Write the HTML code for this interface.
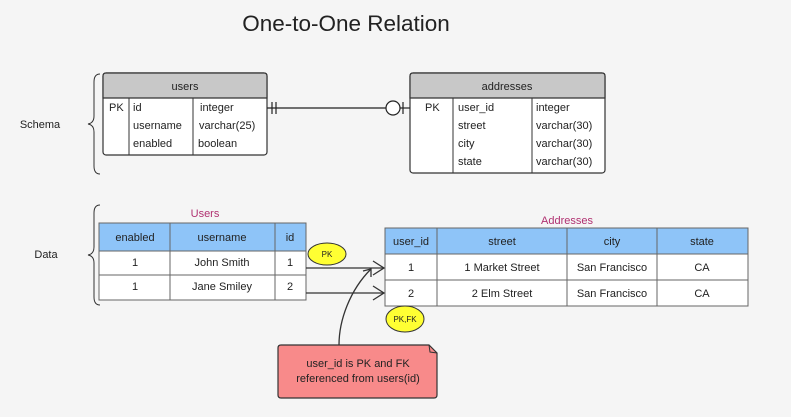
<!DOCTYPE html>
<html><head><meta charset="utf-8"><style>
html,body{margin:0;padding:0;background:#f5f5f5;}
svg{display:block;font-family:"Liberation Sans",sans-serif;}
</style></head><body>
<svg width="791" height="417" viewBox="0 0 791 417" xmlns="http://www.w3.org/2000/svg">
<rect width="791" height="417" fill="#f5f5f5"/>
<text x="346" y="31" font-size="22.5" text-anchor="middle" fill="#222">One-to-One Relation</text>
<text x="40" y="128" font-size="11" text-anchor="middle" fill="#222">Schema</text>
<text x="46" y="258" font-size="11" text-anchor="middle" fill="#222">Data</text>
<!-- braces -->
<path d="M100,74 Q94,74 94,82 L94,116 Q94,123 88,124 Q94,125 94,132 L94,166 Q94,174 100,174" fill="none" stroke="#333" stroke-width="1"/>
<path d="M100,205 Q94,205 94,213 L94,247 Q94,254 88,255 Q94,256 94,263 L94,297 Q94,305 100,305" fill="none" stroke="#333" stroke-width="1"/>

<!-- users ER -->
<g font-size="11" fill="#222">
<rect x="103" y="73" width="164" height="82" rx="3" fill="#fff" stroke="#333" stroke-width="1.2"/>
<path d="M103,98 L103,76 Q103,73 106,73 L264,73 Q267,73 267,76 L267,98 Z" fill="#c8c8c8" stroke="#333" stroke-width="1.2"/>
<line x1="129" y1="98" x2="129" y2="155" stroke="#333"/>
<line x1="193" y1="98" x2="193" y2="155" stroke="#333"/>
<text x="185" y="90" text-anchor="middle">users</text>
<text x="109" y="111">PK</text>
<text x="133" y="111">id</text><text x="200" y="111">integer</text>
<text x="133" y="129">username</text><text x="199" y="129">varchar(25)</text>
<text x="133" y="147">enabled</text><text x="198" y="147">boolean</text>
</g>
<!-- addresses ER -->
<g font-size="11" fill="#222">
<rect x="410" y="73" width="195" height="100" rx="3" fill="#fff" stroke="#333" stroke-width="1.2"/>
<path d="M410,98 L410,76 Q410,73 413,73 L602,73 Q605,73 605,76 L605,98 Z" fill="#c8c8c8" stroke="#333" stroke-width="1.2"/>
<line x1="453" y1="98" x2="453" y2="173" stroke="#333"/>
<line x1="532" y1="98" x2="532" y2="173" stroke="#333"/>
<text x="507" y="90" text-anchor="middle">addresses</text>
<text x="425" y="111">PK</text>
<text x="458" y="111">user_id</text><text x="536" y="111">integer</text>
<text x="458" y="129">street</text><text x="536" y="129">varchar(30)</text>
<text x="458" y="147">city</text><text x="536" y="147">varchar(30)</text>
<text x="458" y="165">state</text><text x="536" y="165">varchar(30)</text>
</g>
<!-- ER connector -->
<g stroke="#222" stroke-width="1.2" fill="none">
<line x1="267" y1="108" x2="386" y2="108"/>
<line x1="272" y1="102" x2="272" y2="114"/>
<line x1="276" y1="102" x2="276" y2="114"/>
<circle cx="393" cy="108" r="7" fill="#fff"/>
<line x1="400" y1="108" x2="410" y2="108"/>
<line x1="403" y1="102" x2="403" y2="114"/>
</g>

<!-- Users data table -->
<text x="205" y="217" font-size="11" fill="#b03070" text-anchor="middle">Users</text>
<g font-size="11" fill="#222" text-anchor="middle">
<rect x="99" y="223" width="207" height="28" fill="#8ec4f8"/>
<rect x="99" y="251" width="207" height="49" fill="#fff"/>
<g stroke="#666" stroke-width="1" fill="none">
<rect x="99" y="223" width="207" height="77"/>
<line x1="99" y1="251" x2="306" y2="251"/>
<line x1="99" y1="275" x2="306" y2="275"/>
<line x1="170" y1="223" x2="170" y2="300"/>
<line x1="275" y1="223" x2="275" y2="300"/>
</g>
<text x="135" y="241">enabled</text><text x="222" y="241">username</text><text x="290" y="241">id</text>
<text x="135" y="266">1</text><text x="222" y="266">John Smith</text><text x="290" y="266">1</text>
<text x="135" y="290">1</text><text x="222" y="290">Jane Smiley</text><text x="290" y="290">2</text>
</g>

<!-- Addresses data table -->
<text x="567" y="224" font-size="11" fill="#b03070" text-anchor="middle">Addresses</text>
<g font-size="11" fill="#222" text-anchor="middle">
<rect x="385" y="228" width="363" height="26" fill="#8ec4f8"/>
<rect x="385" y="254" width="363" height="52" fill="#fff"/>
<g stroke="#666" stroke-width="1" fill="none">
<rect x="385" y="228" width="363" height="78"/>
<line x1="385" y1="254" x2="748" y2="254"/>
<line x1="385" y1="280" x2="748" y2="280"/>
<line x1="437" y1="228" x2="437" y2="306"/>
<line x1="567" y1="228" x2="567" y2="306"/>
<line x1="657" y1="228" x2="657" y2="306"/>
</g>
<text x="411" y="245">user_id</text><text x="502" y="245">street</text><text x="612" y="245">city</text><text x="702" y="245">state</text>
<text x="411" y="271">1</text><text x="502" y="271">1 Market Street</text><text x="612" y="271">San Francisco</text><text x="702" y="271">CA</text>
<text x="411" y="297">2</text><text x="502" y="297">2 Elm Street</text><text x="612" y="297">San Francisco</text><text x="702" y="297">CA</text>
</g>

<!-- arrows -->
<g stroke="#333" stroke-width="1.3" fill="none">
<line x1="306" y1="268" x2="384" y2="268"/>
<polyline points="373,261 384,268 373,275"/>
<line x1="306" y1="293" x2="384" y2="293"/>
<polyline points="373,286 384,293 373,300"/>
<path d="M339,345 C339,320 350,290 371,269"/>
<polyline points="363,271 371,269 371,277"/>
</g>

<ellipse cx="327" cy="254" rx="19" ry="11" fill="#ffff33" stroke="#333"/>
<text x="327" y="257" font-size="8" text-anchor="middle" fill="#222">PK</text>
<ellipse cx="405" cy="319" rx="19" ry="13" fill="#ffff33" stroke="#333"/>
<text x="405" y="322" font-size="8" text-anchor="middle" fill="#222">PK,FK</text>

<!-- note -->
<path d="M281,345 L429,345 L437,353 L437,395 Q437,398 434,398 L281,398 Q278,398 278,395 L278,348 Q278,345 281,345 Z" fill="#f88a8a" stroke="#333" stroke-width="1.2"/>
<path d="M429,345 L430,352 L437,353" fill="none" stroke="#333"/>
<text x="358" y="367" font-size="11" text-anchor="middle" fill="#222">user_id is PK and FK</text>
<text x="358" y="382" font-size="11" text-anchor="middle" fill="#222">referenced from users(id)</text>
</svg>
</body></html>
